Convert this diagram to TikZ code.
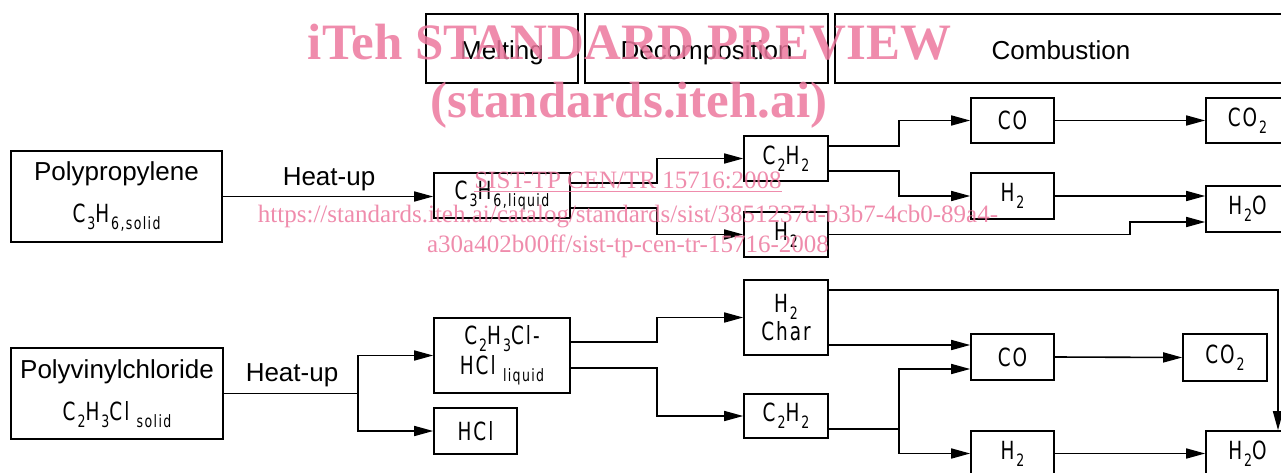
\documentclass[tikz,border=0pt]{standalone}
\usepackage{fontspec}
\setmainfont{Liberation Sans}
\newfontfamily\isof[LetterSpace=8,FakeStretch=0.82]{DejaVu Sans Condensed}
\newfontfamily\wmf{Liberation Serif}
\usetikzlibrary{arrows.meta}
\definecolor{wmpink}{RGB}{236,120,158}
\newcommand\isoz{\isof\fontsize{25}{28}\selectfont}
\newcommand\arl{\normalfont\fontsize{26}{30}\selectfont}
\newcommand\sbs[1]{\hspace{2pt}\raisebox{-7pt}{\fontsize{17}{17}\selectfont #1}}
\begin{document}
\begin{tikzpicture}[x=1pt,y=-1pt,
  box/.style={draw, line width=1.6pt, inner sep=0pt, font=\isoz, align=center},
  hdr/.style={draw, line width=2.8pt, inner sep=0pt, font=\arl, text height=22pt, text depth=0pt},
  lbl/.style={font=\arl, inner sep=0pt},
  arr/.style={-{Triangle[length=19pt,width=10pt]}, line width=1.6pt},
  ln/.style={line width=1.6pt},
  wm/.style={text=wmpink, text opacity=0.85, inner sep=0pt, anchor=base}]
\useasboundingbox (0,0) rectangle (1281,473);
% headers
\node[hdr, minimum width=152pt, minimum height=69pt] (melt) at (502,48.5) {Melting};
\node[hdr, minimum width=243pt, minimum height=69pt] (deco) at (706.5,48.5) {Decomposition};
\node[hdr, minimum width=452pt, minimum height=69pt] (comb) at (1061,48.5) {Combustion};
% row 1
\node[box, minimum width=211pt, minimum height=91pt] (pp) at (116.5,196.5)
  {{\arl Polypropylene}\\[14pt]C\sbs{3}H\sbs{6,solid}};
\node[lbl] (hu1) at (329,179) {Heat-up};
\node[box, minimum width=136pt, minimum height=45pt] (c3l) at (502,195.5) {C\sbs{3}H\sbs{6,liquid}};
\node[box, minimum width=84pt, minimum height=45pt] (c2h2a) at (786,158.5) {C\sbs{2}H\sbs{2}};
\node[box, minimum width=84pt, minimum height=45pt] (h2a) at (786,234.5) {H\sbs{2}};
\node[box, minimum width=83pt, minimum height=45pt] (coa) at (1012.5,120.5) {CO};
\node[box, minimum width=83pt, minimum height=46pt] (h2b) at (1012.5,196) {H\sbs{2}};
\node[box, minimum width=83pt, minimum height=45pt] (co2a) at (1247.5,120.5) {CO\sbs{2}};
\node[box, minimum width=83pt, minimum height=46pt] (h2oa) at (1247.5,209) {H\sbs{2}O};
% row 2
\node[box, minimum width=212pt, minimum height=91pt] (pvc) at (117,393.5)
  {{\arl Polyvinylchloride}\\[14pt]C\sbs{2}H\sbs{3}Cl\sbs{ solid}};
\node[lbl] (hu2) at (292,375) {Heat-up};
\node[box, minimum width=136pt, minimum height=75pt] (c2h3cl) at (502,355.5) {C\sbs{2}H\sbs{3}Cl-\\[2pt]HCl\sbs{ liquid}};
\node[box, minimum width=83pt, minimum height=46pt] (hcl) at (475.5,431) {HCl};
\node[box, minimum width=84pt, minimum height=75pt] (h2char) at (786,317.5) {H\sbs{2}\\Char};
\node[box, minimum width=84pt, minimum height=44pt] (c2h2b) at (786,416) {C\sbs{2}H\sbs{2}};
\node[box, minimum width=83pt, minimum height=46pt] (cob) at (1012.5,357) {CO};
\node[box, minimum width=84pt, minimum height=47pt] (co2b) at (1225,357.5) {CO\sbs{2}};
\node[box, minimum width=83pt, minimum height=45pt] (h2c) at (1012.5,453.5) {H\sbs{2}};
\node[box, minimum width=83pt, minimum height=46pt] (h2ob) at (1247.5,454) {H\sbs{2}O};
% connectors row 1
\draw[arr] (pp.east) -- (pp.east -| c3l.west);
\draw[arr] (c3l.east |- 0,183) -- (657,183) |- (c2h2a.west);
\draw[arr] (c3l.east |- 0,208) -- (657,208) |- (h2a.west);
\draw[arr] (c2h2a.east |- 0,146) -- (899,146) |- (coa.west);
\draw[arr] (c2h2a.east |- 0,171) -- (899,171) |- (h2b.west);
\draw[arr] (h2a.east) -- (1130,234.5) |- (h2oa.west |- 0,222);
\draw[arr] (coa.east) -- (co2a.west);
\draw[arr] (h2b.east) -- (h2oa.west |- h2b.east);
% connectors row 2
\coordinate (br1) at (358,393.5);
\draw[ln] (pvc.east) -- (br1);
\draw[arr] (br1) |- (c2h3cl.west);
\draw[arr] (br1) |- (hcl.west);
\draw[arr] (c2h3cl.east |- 0,342) -- (657,342) |- (h2char.west);
\draw[arr] (c2h3cl.east |- 0,368) -- (657,368) |- (c2h2b.west);
\draw[arr] (h2char.east |- 0,290) -- (1278,290) -- (1278,0 |- h2ob.north);
\draw[arr] (h2char.east |- 0,345) -- (cob.west |- 0,345);
\coordinate (br2) at (899,429);
\draw[ln] (c2h2b.east |- br2) -- (br2);
\draw[arr] (br2) |- (cob.west |- 0,369);
\draw[arr] (br2) |- (h2c.west);
\draw[arr] (cob.east) -- (co2b.west);
\draw[arr] (h2c.east) -- (h2ob.west |- h2c.east);
% watermark
\node[wm, font=\wmf\bfseries\fontsize{51}{51}\selectfont] (wm1) at (629.5,60) {iTeh STANDARD PREVIEW};
\node[wm, font=\wmf\bfseries\fontsize{51}{51}\selectfont] (wm2) at (629,118) {(standards.iteh.ai)};
\node[wm, font=\wmf\fontsize{25}{25}\selectfont] (wm3) at (628,189) {\underline{SIST-TP CEN/TR 15716:2008}};
\node[wm, font=\wmf\fontsize{25}{25}\selectfont] (wm4) at (628,222) {https://standards.iteh.ai/catalog/standards/sist/3851237d-b3b7-4cb0-89a4-};
\node[wm, font=\wmf\fontsize{25}{25}\selectfont] (wm5) at (628,252) {a30a402b00ff/sist-tp-cen-tr-15716-2008};
\end{tikzpicture}
\end{document}
